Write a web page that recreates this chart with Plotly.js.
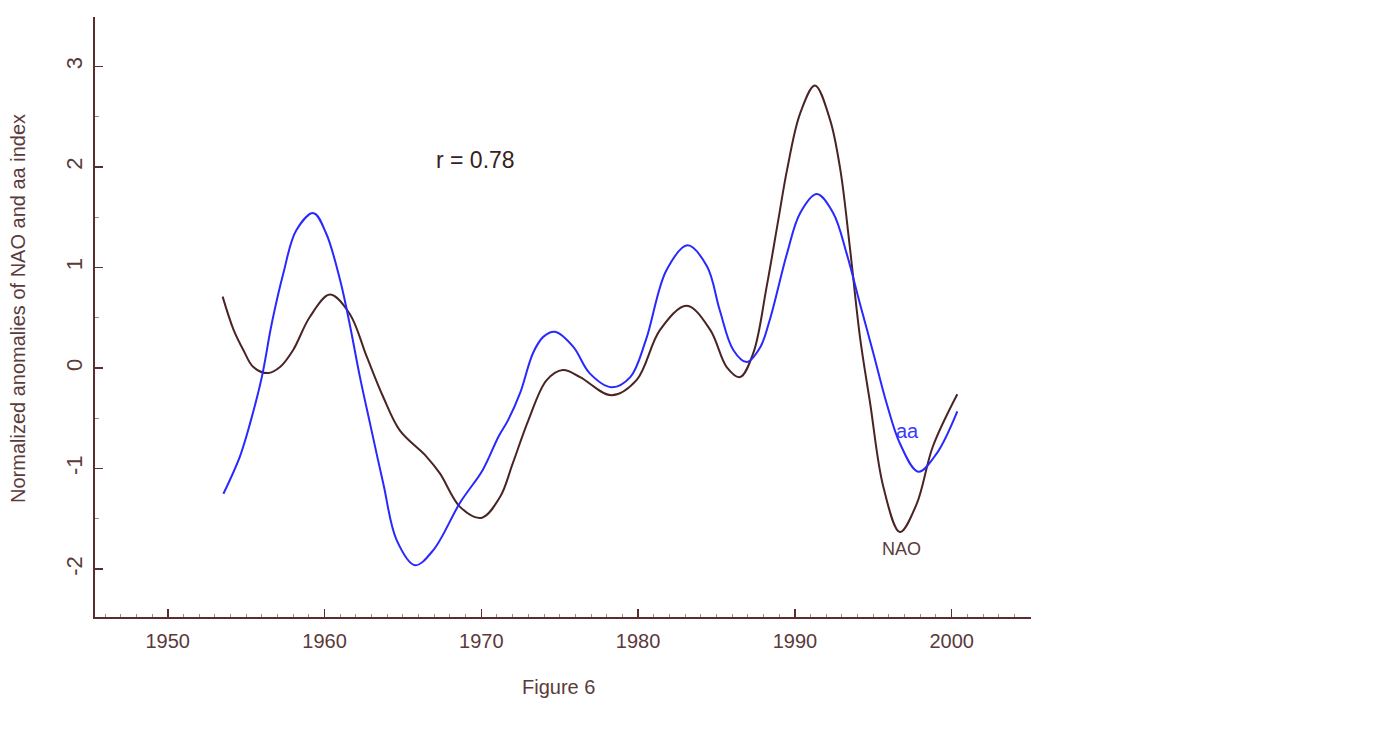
<!DOCTYPE html>
<html><head><meta charset="utf-8">
<script src="https://cdn.plot.ly/plotly-3.0.1.min.js"></script>
<style>body{margin:0;background:#fff}#c{width:1373px;height:738px}</style>
</head><body><div id="c"></div>
<script>
const naoYears = [1953.5,1954.2,1954.82,1955.46,1956.4,1957.16,1958.0,1959.07,1960.35,1961.6,1962.7,1963.75,1964.8,1966.5,1967.37,1968.64,1970.0,1971.2,1972.0,1973.0,1974.17,1975.2,1976.3,1978.3,1979.9,1981.4,1983.1,1984.6,1985.65,1986.5,1987.35,1988.2,1988.94,1989.5,1990.33,1991.28,1992.24,1992.9,1993.5,1994.15,1994.8,1995.64,1996.7,1997.77,1998.8,2000.36];
const naoValues = [0.71,0.38,0.18,0.01,-0.05,0.01,0.18,0.51,0.73,0.54,0.11,-0.29,-0.62,-0.88,-1.05,-1.38,-1.49,-1.28,-0.95,-0.52,-0.12,-0.02,-0.09,-0.27,-0.12,0.38,0.62,0.38,0.01,-0.09,0.15,0.81,1.47,1.97,2.53,2.81,2.47,1.97,1.21,0.31,-0.35,-1.18,-1.63,-1.35,-0.78,-0.26];
const aaYears = [1953.55,1954.6,1955.25,1956.0,1956.63,1957.37,1958.2,1959.3,1960.1,1961.0,1961.6,1962.26,1962.9,1963.75,1964.6,1965.77,1966.94,1968.64,1970.1,1971.1,1971.7,1972.47,1973.3,1973.95,1974.7,1975.87,1976.9,1978.3,1979.5,1980.5,1981.8,1983.15,1984.4,1985.2,1986.07,1986.93,1987.8,1988.4,1989.5,1990.33,1991.4,1992.45,1993.3,1994.15,1995.0,1995.85,1996.7,1997.87,1999.04,2000.36];
const aaValues = [-1.25,-0.88,-0.55,-0.09,0.44,0.94,1.37,1.54,1.34,0.87,0.44,-0.09,-0.55,-1.15,-1.71,-1.96,-1.81,-1.34,-1.01,-0.68,-0.52,-0.25,0.15,0.31,0.36,0.21,-0.05,-0.19,-0.09,0.28,0.97,1.22,1.01,0.58,0.18,0.06,0.21,0.48,1.14,1.54,1.73,1.54,1.14,0.64,0.15,-0.35,-0.75,-1.03,-0.85,-0.43];
const xTicks = [1950,1960,1970,1980,1990,2000];
const yTicks = [-2,-1,0,1,2,3];
const yTickLabels = ['-2','-1','0','1','2','3'];

const axisCol = '#5a2e2e';
const textCol = '#5a3a3a';
const fontFam = 'Liberation Sans, Arial, sans-serif';

const traces = [
  {x: naoYears, y: naoValues, type:'scatter', mode:'lines', name:'NAO',
   line:{color:'#4a2424', width:2, shape:'spline', smoothing:1}},
  {x: aaYears, y: aaValues, type:'scatter', mode:'lines', name:'aa',
   line:{color:'#2828ff', width:2, shape:'spline', smoothing:1}}
];

const layout = {
  width:1373, height:738, showlegend:false,
  paper_bgcolor:'#fff', plot_bgcolor:'#fff',
  margin:{l:95, r:342, t:17, b:121},
  font:{family:fontFam, color:textCol, size:14},
  xaxis:{range:[1945.36,2005.06], tickvals:xTicks, ticktext:xTicks.map(String),
    showgrid:false, zeroline:false, showline:true, linecolor:axisCol, linewidth:2,
    ticks:'inside', ticklen:8, tickcolor:axisCol, tickwidth:1.5,
    ticklabelstandoff:5,
    minor:{dtick:1, ticks:'inside', ticklen:3, tickcolor:'#a08888', tickwidth:1, showgrid:false},
    tickfont:{size:20, color:textCol}},
  yaxis:{range:[-2.475,3.49], tickvals:yTicks, ticktext:yTickLabels, tickangle:-90,
    showgrid:false, zeroline:false, showline:true, linecolor:axisCol, linewidth:2,
    ticks:'inside', ticklen:8, tickcolor:axisCol, tickwidth:1.5,
    ticklabelstandoff:2,
    minor:{tickvals:[-2.5,-1.5,-0.5,0.5,1.5,2.5], ticks:'inside', ticklen:4, tickcolor:'#a08888', tickwidth:1, showgrid:false},
    tickfont:{size:22, color:textCol}},
  annotations:[
    {xref:'paper', yref:'paper', x:(18-95)/936, y:(617-309)/600, xanchor:'center', yanchor:'middle',
     text:'Normalized anomalies of NAO and aa index', textangle:-90, showarrow:false, font:{size:20, color:textCol}},
    {xref:'x', yref:'y', x:1969.6, y:2.07, text:'r = 0.78', showarrow:false, font:{size:23, color:'#3a2020'}},
    {xref:'x', yref:'y', x:1997.2, y:-0.63, text:'aa', showarrow:false, font:{size:20, color:'#3a3aff'}},
    {xref:'x', yref:'y', x:1996.8, y:-1.80, text:'NAO', showarrow:false, font:{size:18, color:textCol}},
    {xref:'paper', yref:'paper', x:(558-95)/936, y:-(687-617)/600, xanchor:'center', yanchor:'middle',
     text:'Figure 6', showarrow:false, font:{size:20, color:textCol}}
  ]
};
Plotly.newPlot('c', traces, layout, {displayModeBar:false, staticPlot:true});
</script></body></html>
